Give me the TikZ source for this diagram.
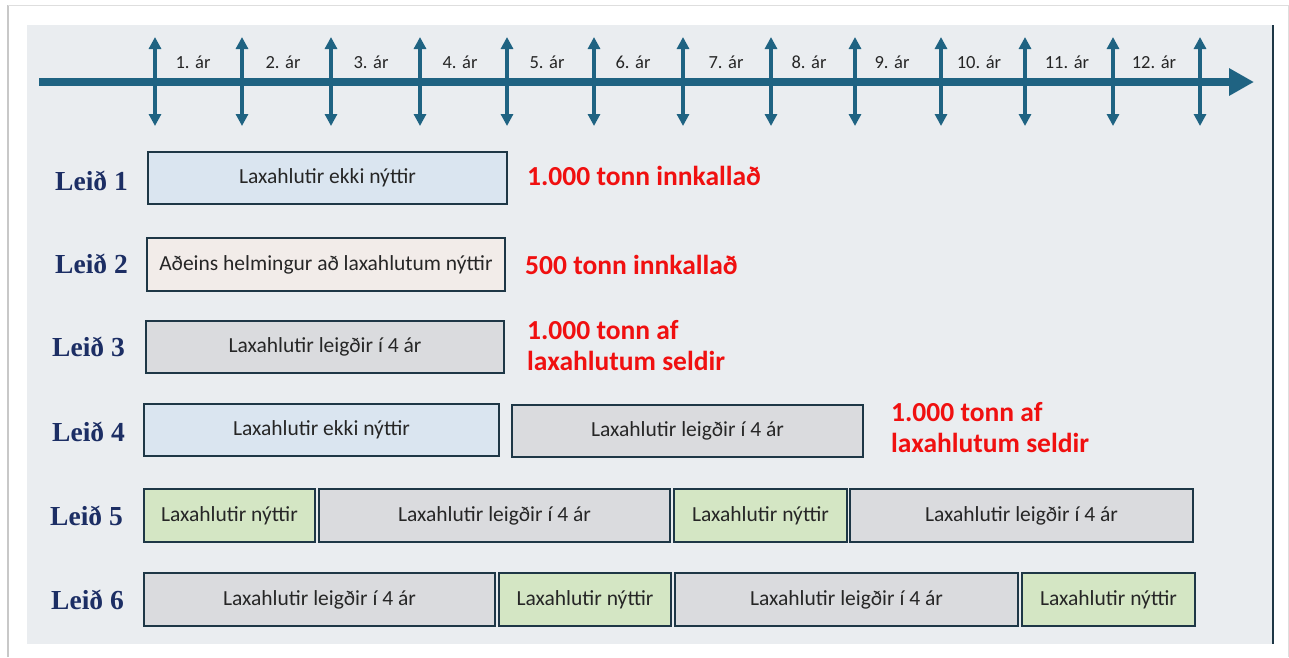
\documentclass[tikz,border=0pt]{standalone}
\usepackage{fontspec}
\setmainfont{Carlito}
\newfontfamily\leidfont{Liberation Serif}
\usetikzlibrary{arrows.meta}
\definecolor{panelcol}{RGB}{234,237,240}
\definecolor{bluebox}{RGB}{218,229,240}
\definecolor{pinkbox}{RGB}{242,236,233}
\definecolor{graybox}{RGB}{218,219,222}
\definecolor{greenbox}{RGB}{212,230,196}
\definecolor{bordercol}{RGB}{30,55,70}
\definecolor{timecol}{RGB}{31,99,130}
\definecolor{navycol}{RGB}{28,46,100}
\definecolor{redcol}{RGB}{240,16,16}
\definecolor{cardedge}{RGB}{200,200,200}
\tikzset{
  boxstyle/.style={draw=bordercol, line width=1.8pt, rectangle, inner sep=0pt, outer sep=0pt, font=\fontsize{21.5}{24}\selectfont, text=black!85},
  leidstyle/.style={font=\leidfont\bfseries\fontsize{27.5}{31}\selectfont, text=navycol, anchor=east, inner sep=0pt},
  redstyle/.style={font=\bfseries\fontsize{27.5}{31}\selectfont, text=redcol, anchor=west, align=left, inner sep=0pt},
  yearstyle/.style={font=\fontsize{18.5}{20}\selectfont, text=black!85, inner sep=0pt},
  varrow/.style={draw=timecol, line width=3.5pt, {Triangle[length=12pt,width=12pt]}-{Triangle[length=12pt,width=12pt]}},
  harrow/.style={draw=timecol, line width=8pt, -{Triangle[length=25pt,width=26pt]}}
}
\newcommand{\mybox}[8]{%
  \pgfmathsetmacro{\bw}{#3-#2}\pgfmathsetmacro{\bh}{#5-#4}%
  \pgfmathsetmacro{\bx}{(#2+#3)/2}\pgfmathsetmacro{\by}{(#4+#5)/2}%
  \node[boxstyle, fill=#6, minimum width=\bw pt, minimum height=\bh pt, #8] (#1) at (\bx,\by) {#7};}
\begin{document}
\begin{tikzpicture}[x=1pt,y=-1pt]
\useasboundingbox (0,0) rectangle (1289,657);
\fill[white] (0,0) rectangle (1289,657);
% card
\fill[white] (8,5) rectangle (1288,657);
\draw[cardedge, line width=2pt] (8,657) -- (8,5);
\draw[cardedge!60, line width=1pt] (8,5) -- (1288,5) -- (1288,657);
% panel
\fill[panelcol] (27,25) rectangle (1273,644);
\draw[bordercol, line width=1.5pt] (1273,25) -- (1273,644);
% timeline
\foreach \xx [count=\i] in {155,242,331,420,507,594,683,771,855,941,1025,1113,1200} {
  \draw[varrow] (\xx,126) -- (\xx,37);
}
\coordinate (tstart) at (39,82);
\coordinate (tend) at (1254,82);
\draw[harrow] (tstart) -- (tend);
\foreach \xx/\lab [count=\i] in {193/1,283/2,371/3,460/4,547/5,633/6,726/7,809/8,892/9,979/10,1067/11,1154/12} {
  \node[yearstyle] (yr\i) at (\xx,62.5) {\lab. ár};
}
% Leið 1
\mybox{b1}{148}{507}{152}{204}{bluebox}{Laxahlutir ekki nýttir}{}
\node[leidstyle] (l1) at (128,181) {Leið 1};
\node[redstyle] (r1) at (527,176) {1.000 tonn innkallað};
% Leið 2
\mybox{b2}{147}{505}{238}{291}{pinkbox}{Aðeins helmingur að laxahlutum nýttir}{}
\node[leidstyle] (l2) at (128,264) {Leið 2};
\node[redstyle] (r2) at (525,265) {500 tonn innkallað};
% Leið 3
\mybox{b3}{146}{504}{321}{373}{graybox}{Laxahlutir leigðir í 4 ár}{}
\node[leidstyle] (l3) at (125,347) {Leið 3};
\node[redstyle] (r3) at (527,346) {1.000 tonn af\\laxahlutum seldir};
% Leið 4
\mybox{b4a}{144}{499}{404}{456}{bluebox}{Laxahlutir ekki nýttir}{}
\mybox{b4b}{512}{863}{405}{457}{graybox}{Laxahlutir leigðir í 4 ár}{}
\node[leidstyle] (l4) at (125,432) {Leið 4};
\node[redstyle] (r4) at (891,428) {1.000 tonn af\\laxahlutum seldir};
% Leið 5
\mybox{b5a}{144}{315}{489}{542}{greenbox}{Laxahlutir nýttir}{}
\mybox{b5b}{319}{670}{489}{542}{graybox}{Laxahlutir leigðir í 4 ár}{}
\mybox{b5c}{674}{847}{489}{542}{greenbox}{Laxahlutir nýttir}{}
\mybox{b5d}{850}{1193}{489}{542}{graybox}{Laxahlutir leigðir í 4 ár}{}
\node[leidstyle] (l5) at (123,516) {Leið 5};
% Leið 6
\mybox{b6a}{144}{495}{573}{626}{graybox}{Laxahlutir leigðir í 4 ár}{}
\mybox{b6b}{499}{671}{573}{626}{greenbox}{Laxahlutir nýttir}{}
\mybox{b6c}{675}{1018}{573}{626}{graybox}{Laxahlutir leigðir í 4 ár}{}
\mybox{b6d}{1022}{1195}{573}{626}{greenbox}{Laxahlutir nýttir}{}
\node[leidstyle] (l6) at (124,600) {Leið 6};
\end{tikzpicture}
\end{document}
